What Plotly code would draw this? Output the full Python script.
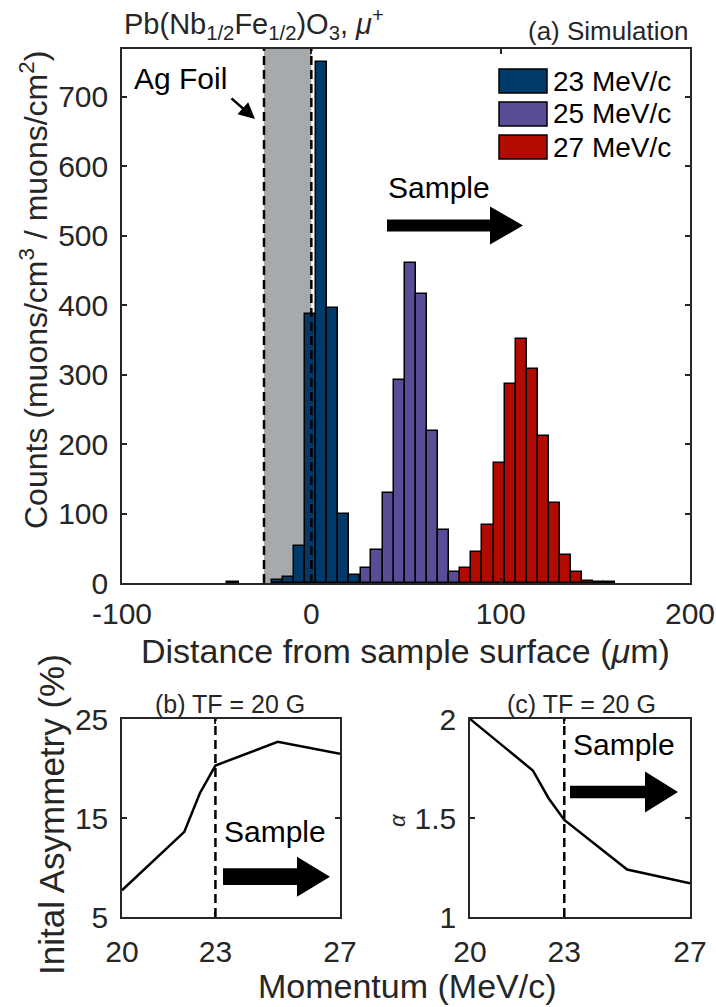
import plotly.graph_objects as go

# ---------------- data ----------------
bin_width = 5.86  # um
blue_x = [-41.4, -18.0, -12.1, -6.3, -0.4, 5.4, 11.3, 17.2, 23.0]
blue_y = [2, 5, 9, 53, 387, 750, 396, 100, 11]
purple_x = [28.9, 34.7, 40.6, 46.4, 52.3, 58.2, 64.0, 69.9, 75.7]
purple_y = [21, 48, 129, 292, 461, 416, 219, 76, 16]
red_x = [81.6, 87.4, 93.3, 99.2, 105.0, 110.9, 116.7, 122.6, 128.4, 134.3, 140.2, 146.0, 151.9, 157.7]
red_y = [22, 44, 83, 173, 286, 352, 308, 212, 115, 41, 16, 3, 1, 1]
series_names = ["23 MeV/c", "25 MeV/c", "27 MeV/c"]
series_colors = ["#003A6B", "#5A4C96", "#B20C02"]

dist_ticks = [-100, 0, 100, 200]
dist_ticktext = ["-100", "0", "100", "200"]

momentum = [20, 22, 22.5, 23, 25, 27]
asymmetry = [7.7, 13.6, 17.5, 20.3, 22.7, 21.5]
alpha = [2.0, 1.74, 1.60, 1.49, 1.24, 1.17]

foil = [-25, 0]

W, H = 716, 1007
FONT = "Liberation Sans, Arial, Helvetica, sans-serif"
TXT = "#262626"


def px(x):
    return x / W


def py(y):
    return 1 - y / H


fig = go.Figure()

for xs, ys, name, col in zip([blue_x, purple_x, red_x], [blue_y, purple_y, red_y], series_names, series_colors):
    fig.add_trace(go.Bar(x=xs, y=ys, width=bin_width, name=name, marker=dict(color=col, line=dict(color="#000000", width=1.5)),
                         xaxis="x", yaxis="y", showlegend=False))

fig.add_trace(go.Scatter(x=momentum, y=asymmetry, mode="lines", line=dict(color="#000000", width=2.5),
                         xaxis="x2", yaxis="y2", showlegend=False))
fig.add_trace(go.Scatter(x=momentum, y=alpha, mode="lines", line=dict(color="#000000", width=2.5),
                         xaxis="x3", yaxis="y3", showlegend=False))

axis_common = dict(showline=True, linecolor=TXT, linewidth=1.5, mirror="ticks", ticks="inside", ticklen=5,
                   tickcolor=TXT, tickwidth=1.5, showgrid=False, zeroline=False, automargin=False,
                   tickfont=dict(family=FONT, size=30, color=TXT))

top_y = [py(583), py(49)]
bot_y = [py(917), py(719)]

fig.update_layout(
    width=W, height=H, autosize=False, margin=dict(l=0, r=0, t=0, b=0, pad=0),
    paper_bgcolor="white", plot_bgcolor="white", barmode="overlay", bargap=0,
    xaxis=dict(domain=[px(122), px(690)], range=[-100, 200], tickvals=dist_ticks, ticktext=dist_ticktext, anchor="y",
               ticklabelstandoff=3, **axis_common),
    yaxis=dict(domain=top_y, range=[0, 769], tickvals=list(range(0, 800, 100)), anchor="x",
               ticklabelstandoff=6, **axis_common),
    xaxis2=dict(domain=[px(122), px(340)], range=[20, 27], tickvals=[20, 23, 27], anchor="y2",
                ticklabelstandoff=7, **axis_common),
    yaxis2=dict(domain=bot_y, range=[5, 25], tickvals=[5, 15, 25], anchor="x2",
                ticklabelstandoff=6, **axis_common),
    xaxis3=dict(domain=[px(470), px(690)], range=[20, 27], tickvals=[20, 23, 27], anchor="y3",
                ticklabelstandoff=7, **axis_common),
    yaxis3=dict(domain=bot_y, range=[1, 2], tickvals=[1, 1.5, 2], ticktext=["1", "1.5", "2"], anchor="x3",
                ticklabelstandoff=6, **axis_common),
)

shapes = []
# Ag foil shaded region
shapes.append(dict(type="rect", xref="x", yref="y domain", x0=foil[0], x1=foil[1], y0=0, y1=1,
                   fillcolor="#A7AAAD", line=dict(width=0), layer="below"))
for xv in foil:
    shapes.append(dict(type="line", xref="x", yref="y domain", x0=xv, x1=xv, y0=0, y1=1,
                       line=dict(color="#000000", width=2.5, dash="9px,5px"), layer="above"))
for xa, ya in [("x2", "y2 domain"), ("x3", "y3 domain")]:
    shapes.append(dict(type="line", xref=xa, yref=ya, x0=23, x1=23, y0=0, y1=1,
                       line=dict(color="#000000", width=2.5, dash="9px,5px"), layer="above"))


def arrow_path(x0, x1, xh, yc, body, head):
    pts = [(x0, yc - body / 2), (xh, yc - body / 2), (xh, yc - head / 2), (x1, yc),
           (xh, yc + head / 2), (xh, yc + body / 2), (x0, yc + body / 2)]
    return "M " + " L ".join(f"{px(a):.5f},{py(b):.5f}" for a, b in pts) + " Z"


for (x0, x1, xh, yc, body, head) in [(387, 523, 490, 225.5, 12, 38),
                                      (223, 330, 297, 876.7, 16.7, 40),
                                      (570, 678, 645, 792, 12.5, 41)]:
    shapes.append(dict(type="path", xref="paper", yref="paper", path=arrow_path(x0, x1, xh, yc, body, head),
                       fillcolor="#000000", line=dict(width=0)))

# manual legend swatches
leg_y = [(69, 93), (102, 126), (135, 159)]
for (y0, y1), col in zip(leg_y, series_colors):
    shapes.append(dict(type="rect", xref="paper", yref="paper", x0=px(499), x1=px(547), y0=py(y1), y1=py(y0),
                       fillcolor=col, line=dict(color="#000000", width=1.5)))

fig.update_layout(shapes=shapes)

ann = []


def text(x, y, s, size, xanchor="center", yanchor="middle", angle=0, color="#000000"):
    ann.append(dict(x=px(x), y=py(y), xref="paper", yref="paper", text=s, showarrow=False,
                    xanchor=xanchor, yanchor=yanchor, textangle=angle,
                    font=dict(family=FONT, size=size, color=color)))


for (y0, y1), name in zip(leg_y, series_names):
    text(551, (y0 + y1) / 2, name, 28, xanchor="left")

text(122, 24, "Pb(Nb<sub>1/2</sub>Fe<sub>1/2</sub>)O<sub>3</sub>, <i>μ</i><sup>+</sup>", 29, xanchor="left", color=TXT)
text(690, 31, "(a) Simulation", 26, xanchor="right", color=TXT)
text(180, 78, "Ag Foil", 30)
text(439, 188, "Sample", 30)
text(275, 831, "Sample", 30)
text(624, 744, "Sample", 30)

text(405, 651, "Distance from sample surface (<i>μ</i>m)", 34, color=TXT)
text(34, 290, "Counts (muons/cm<sup>3</sup> / muons/cm<sup>2</sup>)", 32, angle=-90, color=TXT)
text(230, 704, "(b) TF = 20 G", 25, color=TXT)
text(581, 704, "(c) TF = 20 G", 25, color=TXT)
text(51, 815, "Inital Asymmetry (%)", 35, angle=-90, color=TXT)
text(397, 820, "<i>α</i>", 22, angle=-90, color=TXT)
text(408, 986, "Momentum (MeV/c)", 34, color=TXT)

# Ag foil arrow
ann.append(dict(x=px(255), y=py(119), xref="paper", yref="paper", ax=-25, ay=-22, axref="pixel", ayref="pixel",
                text="", showarrow=True, arrowhead=2, arrowsize=1.3, arrowwidth=2.5, arrowcolor="#000000"))

fig.update_layout(annotations=ann)

fig.write_html("out.html", config={"displayModeBar": False},
               post_script="document.body.style.margin='0px';document.body.style.padding='0px';")
